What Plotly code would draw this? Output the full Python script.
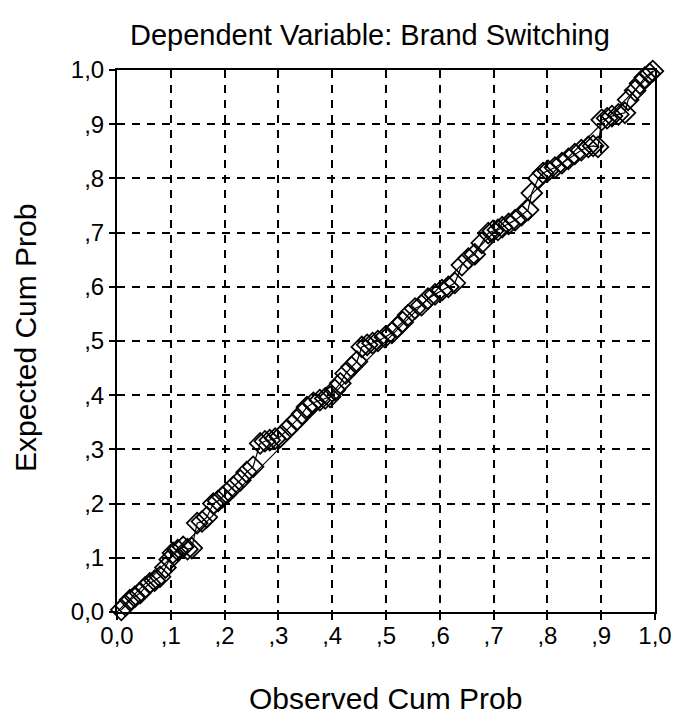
import plotly.graph_objects as go

observed_cum_prob = [
    0.008, 0.016, 0.024, 0.033, 0.043, 0.052, 0.061, 0.070, 0.080, 0.090,
    0.098, 0.104, 0.113, 0.123, 0.131, 0.139, 0.149, 0.158, 0.167, 0.179,
    0.188, 0.196, 0.204, 0.216, 0.229, 0.241, 0.253, 0.266, 0.275, 0.284,
    0.294, 0.303, 0.316, 0.325, 0.334, 0.344, 0.353, 0.365, 0.377, 0.387,
    0.396, 0.405, 0.415, 0.425, 0.436, 0.446, 0.455, 0.465, 0.475, 0.485,
    0.498, 0.511, 0.521, 0.531, 0.541, 0.554, 0.566, 0.578, 0.591, 0.604,
    0.616, 0.628, 0.641, 0.653, 0.665, 0.678, 0.690, 0.699, 0.708, 0.716,
    0.728, 0.740, 0.752, 0.764, 0.771, 0.783, 0.792, 0.801, 0.814, 0.827,
    0.839, 0.851, 0.863, 0.876, 0.885, 0.894, 0.901, 0.911, 0.920, 0.932,
    0.944, 0.950, 0.963, 0.972, 0.981, 0.990, 0.996,
]
expected_cum_prob = [
    0.004, 0.012, 0.022, 0.028, 0.035, 0.045, 0.053, 0.058, 0.065, 0.082,
    0.097, 0.109, 0.114, 0.120, 0.116, 0.118, 0.164, 0.167, 0.175, 0.200,
    0.205, 0.212, 0.219, 0.231, 0.243, 0.258, 0.268, 0.311, 0.315, 0.317,
    0.320, 0.323, 0.336, 0.345, 0.354, 0.366, 0.378, 0.386, 0.391, 0.394,
    0.397, 0.410, 0.422, 0.440, 0.452, 0.462, 0.489, 0.493, 0.496, 0.500,
    0.507, 0.515, 0.526, 0.535, 0.548, 0.560, 0.566, 0.578, 0.586, 0.594,
    0.600, 0.607, 0.640, 0.652, 0.660, 0.681, 0.699, 0.703, 0.705, 0.710,
    0.716, 0.723, 0.732, 0.742, 0.773, 0.800, 0.810, 0.814, 0.820, 0.828,
    0.836, 0.845, 0.852, 0.858, 0.860, 0.858, 0.908, 0.911, 0.915, 0.918,
    0.921, 0.945, 0.962, 0.975, 0.986, 0.993, 0.998,
]
reference_line = [0.0, 1.0]
tick_values = [0.0, 0.1, 0.2, 0.3, 0.4, 0.5, 0.6, 0.7, 0.8, 0.9, 1.0]
tick_labels = ["0,0", ",1", ",2", ",3", ",4", ",5", ",6", ",7", ",8", ",9", "1,0"]

FONT = "Arial, Liberation Sans, sans-serif"

PLOT_L, PLOT_T, PLOT_W, PLOT_H = 117, 70, 538, 542
FIG_W, FIG_H = 675, 724

fig = go.Figure()
fig.add_trace(go.Scatter(
    x=reference_line, y=reference_line, mode="lines",
    line=dict(color="black", width=1.2), hoverinfo="skip", showlegend=False,
))
fig.add_trace(go.Scatter(
    x=observed_cum_prob, y=expected_cum_prob, mode="lines+markers",
    line=dict(color="black", width=1.2),
    marker=dict(symbol="diamond-open", size=16, color="black",
                line=dict(color="black", width=1.7)),
    cliponaxis=False, showlegend=False,
))

axis_common = dict(
    range=[0, 1], tickvals=tick_values, ticktext=tick_labels,
    showline=True, linecolor="black", linewidth=2, mirror=True,
    ticks="outside", ticklen=6, tickwidth=2, tickcolor="black",
    showgrid=True, gridcolor="black", gridwidth=2, griddash="8px,7px",
    zeroline=False, tickfont=dict(family=FONT, size=24, color="black"),
    ticklabeloverflow="allow", automargin=False, fixedrange=True,
)
fig.update_xaxes(**axis_common, ticklabelstandoff=-5)
fig.update_yaxes(**axis_common)

fig.update_layout(
    width=FIG_W, height=FIG_H,
    margin=dict(l=PLOT_L, r=FIG_W - PLOT_L - PLOT_W, t=PLOT_T,
                b=FIG_H - PLOT_T - PLOT_H, autoexpand=False),
    paper_bgcolor="white", plot_bgcolor="white",
    font=dict(family=FONT, color="black"),
    annotations=[
        dict(text="Dependent Variable: Brand Switching", xref="paper", yref="paper",
             x=(370 - PLOT_L) / PLOT_W, y=1 + (PLOT_T - 35) / PLOT_H,
             xanchor="center", yanchor="middle",
             showarrow=False, font=dict(size=29, family=FONT, color="black")),
        dict(text="Observed Cum Prob", xref="paper", yref="paper",
             x=(385 - PLOT_L) / PLOT_W, y=-(698 - (PLOT_T + PLOT_H)) / PLOT_H,
             xanchor="center", yanchor="middle",
             showarrow=False, font=dict(size=30, family=FONT, color="black")),
        dict(text="Expected Cum Prob", xref="paper", yref="paper",
             x=-(PLOT_L - 25) / PLOT_W, y=((PLOT_T + PLOT_H) - 338) / PLOT_H,
             xanchor="center", yanchor="middle",
             textangle=-90, showarrow=False,
             font=dict(size=30, family=FONT, color="black")),
    ],
)

fig.write_html(
    "out.html",
    config={"displayModeBar": False},
    post_script="document.body.style.margin='0';document.body.style.overflow='hidden';",
)
